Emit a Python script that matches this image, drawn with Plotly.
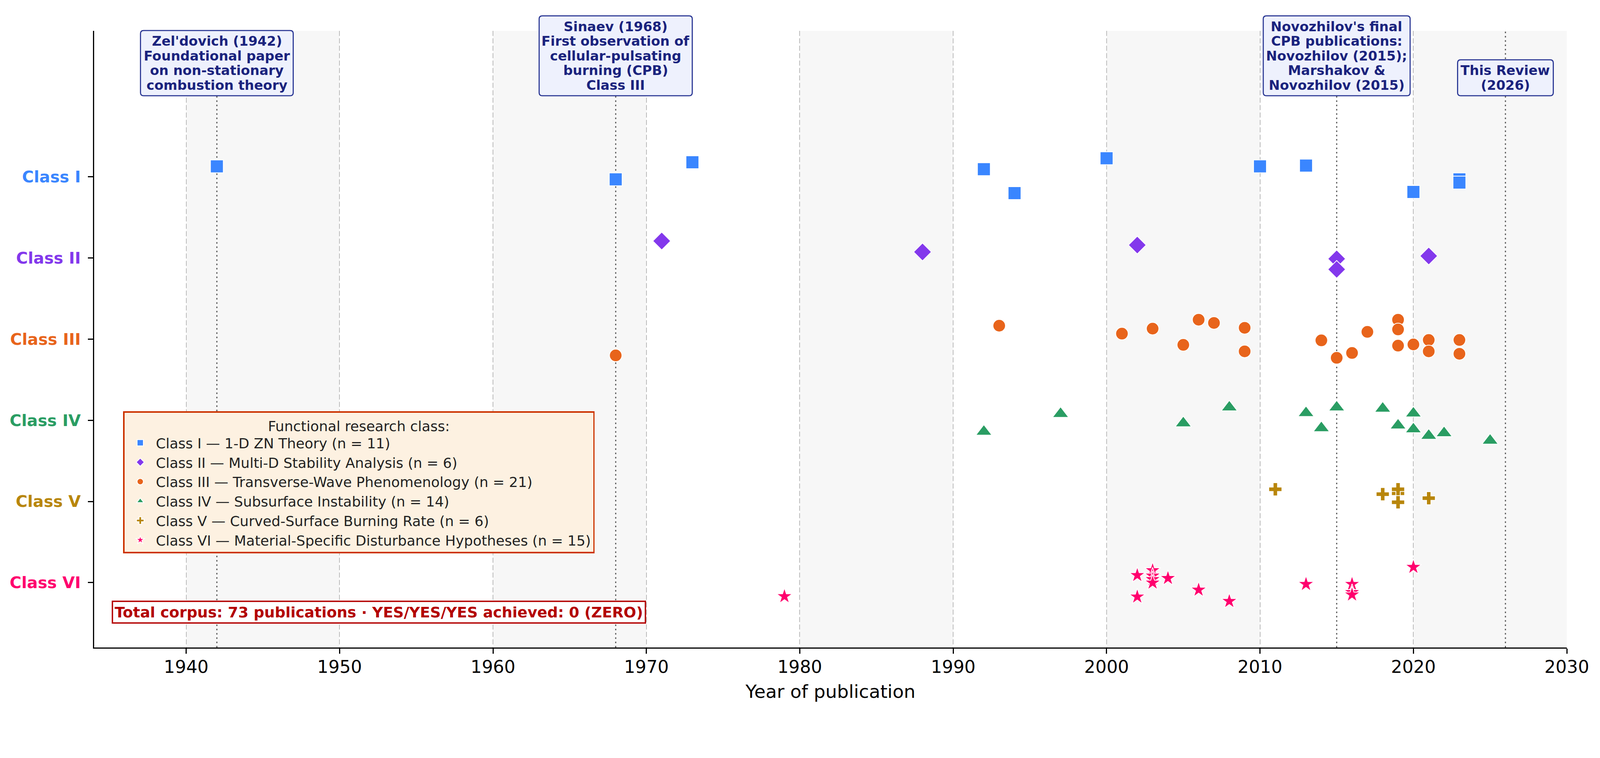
import plotly.graph_objects as go

# ---------------- data ----------------
class_labels = ["Class I", "Class II", "Class III", "Class IV", "Class V", "Class VI"]
class_titles = ["1-D ZN Theory", "Multi-D Stability Analysis", "Transverse-Wave Phenomenology",
                "Subsurface Instability", "Curved-Surface Burning Rate",
                "Material-Specific Disturbance Hypotheses"]
class_rows = [5, 4, 3, 2, 1, 0]

years_I = [1942, 1968, 1973, 1992, 1994, 2000, 2010, 2013, 2020, 2023, 2023]
jitter_I = [0.13, -0.03, 0.18, 0.095, -0.20, 0.23, 0.13, 0.14, -0.185, -0.03, -0.07]

years_II = [1971, 1988, 2002, 2015, 2015, 2021]
jitter_II = [0.21, 0.075, 0.16, -0.01, -0.14, 0.025]

years_III = [1968, 1993, 2001, 2003, 2005, 2006, 2007, 2009, 2009, 2014, 2015,
             2016, 2017, 2019, 2019, 2019, 2020, 2021, 2021, 2023, 2023]
jitter_III = [-0.20, 0.166, 0.068, 0.13, -0.07, 0.24, 0.20, 0.14, -0.15, -0.015, -0.23,
              -0.17, 0.09, 0.24, 0.12, -0.08, -0.065, -0.01, -0.15, -0.01, -0.18]

years_IV = [1992, 1997, 2005, 2008, 2013, 2014, 2015, 2018, 2019, 2020, 2020, 2021, 2022, 2025]
jitter_IV = [-0.14, 0.08, -0.036, 0.16, 0.09, -0.096, 0.16, 0.145, -0.063, 0.085, -0.11,
             -0.19, -0.157, -0.25]

years_V = [2011, 2018, 2019, 2019, 2019, 2021]
jitter_V = [0.15, 0.09, 0.10, 0.15, -0.01, 0.04]

years_VI = [1979, 2002, 2002, 2003, 2003, 2003, 2003, 2004, 2006, 2008, 2013, 2016, 2016, 2016, 2020]
jitter_VI = [-0.17, 0.09, -0.175, 0.15, 0.083, 0.04, -0.003, 0.053, -0.09, -0.23, -0.02,
             -0.02, -0.12, -0.15, 0.19]

all_years = [years_I, years_II, years_III, years_IV, years_V, years_VI]
all_jitter = [jitter_I, jitter_II, jitter_III, jitter_IV, jitter_V, jitter_VI]

milestone_years = [1942, 1968, 2015, 2026]
milestone_texts = [
    "Zel'dovich (1942)<br>Foundational paper<br>on non-stationary<br>combustion theory",
    "Sinaev (1968)<br>First observation of<br>cellular-pulsating<br>burning (CPB)<br>Class III",
    "Novozhilov's final<br>CPB publications:<br>Novozhilov (2015);<br>Marshakov &amp;<br>Novozhilov (2015)",
    "This Review<br>(2026)",
]
milestone_label_y = 6.0
shaded_decades = [1940, 1960, 1980, 2000, 2020]
x_ticks = [1940, 1950, 1960, 1970, 1980, 1990, 2000, 2010, 2020, 2030]
x_range = [1934, 2030]
y_range = [-0.8, 6.8]
yes_yes_yes_count = 0

# ---------------- style ----------------
FONT = "DejaVu Sans"
class_colors = ["#3a86ff", "#8338ec", "#e8641b", "#2a9d63", "#b8860b", "#ff006e"]
class_symbols = ["square", "diamond", "circle", "triangle-up", "cross", "star"]
class_sizes = [33, 35, 32, 36, 28, 31]
box_widths = [391, 392, 376, 245]      # px widths of the milestone boxes
LINE_PITCH = 37.5
BOX_PAD = 8.5


def rounded_box(w, h, r=8):
    x0, x1, y0, y1 = -w / 2, w / 2, 0, h
    return (f"M{x0 + r},{y0} L{x1 - r},{y0} Q{x1},{y0} {x1},{y0 + r} "
            f"L{x1},{y1 - r} Q{x1},{y1} {x1 - r},{y1} L{x0 + r},{y1} "
            f"Q{x0},{y1} {x0},{y1 - r} L{x0},{y0 + r} Q{x0},{y0} {x0 + r},{y0} Z")


fig = go.Figure()

for lab, title, row, col, sym, sz, yrs, jit in zip(class_labels, class_titles, class_rows,
                                                   class_colors, class_symbols, class_sizes,
                                                   all_years, all_jitter):
    fig.add_trace(go.Scatter(
        x=yrs,
        y=[row + j for j in jit],
        mode="markers",
        name=f"{lab} — {title} (n = {len(yrs)})",
        marker=dict(symbol=sym, size=sz, color=col, line=dict(color="white", width=2)),
        cliponaxis=False,
    ))

shapes = []
for d in shaded_decades:
    shapes.append(dict(type="rect", xref="x", yref="paper", x0=d, x1=d + 10, y0=0, y1=1,
                       fillcolor="#f7f7f7", line=dict(width=0), layer="below"))
for m in milestone_years:
    shapes.append(dict(type="line", xref="x", yref="paper", x0=m, x1=m, y0=0, y1=1,
                       line=dict(color="#555555", width=2.8, dash="4px,7px"), layer="between"))

annotations = []
label_paper_y = (milestone_label_y - y_range[0]) / (y_range[1] - y_range[0])
for m, t, w in zip(milestone_years, milestone_texts, box_widths):
    lines = t.split("<br>")
    h = len(lines) * LINE_PITCH + 2 * BOX_PAD
    shapes.append(dict(type="path", xref="x", yref="paper", xsizemode="pixel", ysizemode="pixel",
                       xanchor=m, yanchor=label_paper_y, path=rounded_box(w, h),
                       fillcolor="#eef1fd", line=dict(color="#283593", width=2.8), layer="above"))
    for i, ln in enumerate(lines):
        annotations.append(dict(
            x=m, y=milestone_label_y, xref="x", yref="y", text=f"<b>{ln}</b>", showarrow=False,
            xanchor="center", yanchor="middle", align="center",
            yshift=h - BOX_PAD - (i + 0.5) * LINE_PITCH,
            font=dict(family=FONT, size=34, color="#1a237e"),
        ))

total = sum(len(y) for y in all_years)
annotations.append(dict(
    x=0.012, y=0.0576, xref="paper", yref="paper",
    text=f"<b>Total corpus: {total} publications · YES/YES/YES achieved: {yes_yes_yes_count} (ZERO)</b>",
    showarrow=False, xanchor="left", yanchor="middle",
    font=dict(family=FONT, size=38, color="#b30000"),
    bgcolor="white", bordercolor="#b30000", borderwidth=3.5, borderpad=4,
))

ticktext = [f'<b><span style="color:{c}">{l}</span></b>' for l, c in zip(class_labels, class_colors)]

fig.update_layout(
    width=4080, height=1810, autosize=False,
    margin=dict(l=233, r=77, t=71, b=160, pad=0),
    paper_bgcolor="white", plot_bgcolor="white",
    font=dict(family=FONT, size=38, color="black"),
    shapes=shapes, annotations=annotations,
    showlegend=True,
    legend=dict(
        x=0.0197, y=0.383, xanchor="left", yanchor="top",
        bgcolor="#fdf1e1", bordercolor="#cc3300", borderwidth=3.75,
        font=dict(family=FONT, size=36, color="#222222"),
        title=dict(text="Functional research class:", side="top center",
                   font=dict(family=FONT, size=36, color="#222222")),
        itemsizing="trace", itemwidth=70,
    ),
    xaxis=dict(
        range=x_range, tickvals=x_ticks, ticktext=[str(v) for v in x_ticks],
        showgrid=True, gridcolor="#bbbbbb", gridwidth=1.9, griddash="13px,6px",
        showline=True, linecolor="black", linewidth=3.1, mirror=False,
        ticks="outside", ticklen=13, tickwidth=3.1, tickcolor="black",
        tickfont=dict(family=FONT, size=45, color="black"),
        ticklabelstandoff=-5,
        zeroline=False,
        title=dict(text="Year of publication", font=dict(family=FONT, size=47, color="black"),
                   standoff=22),
    ),
    yaxis=dict(
        range=y_range, tickvals=class_rows, ticktext=ticktext,
        showgrid=False, showline=True, linecolor="black", linewidth=3.1,
        ticks="outside", ticklen=13, tickwidth=3.1, tickcolor="black",
        tickfont=dict(family=FONT, size=41),
        ticklabelstandoff=10,
        zeroline=False,
    ),
)

fig.write_html("out.html")
